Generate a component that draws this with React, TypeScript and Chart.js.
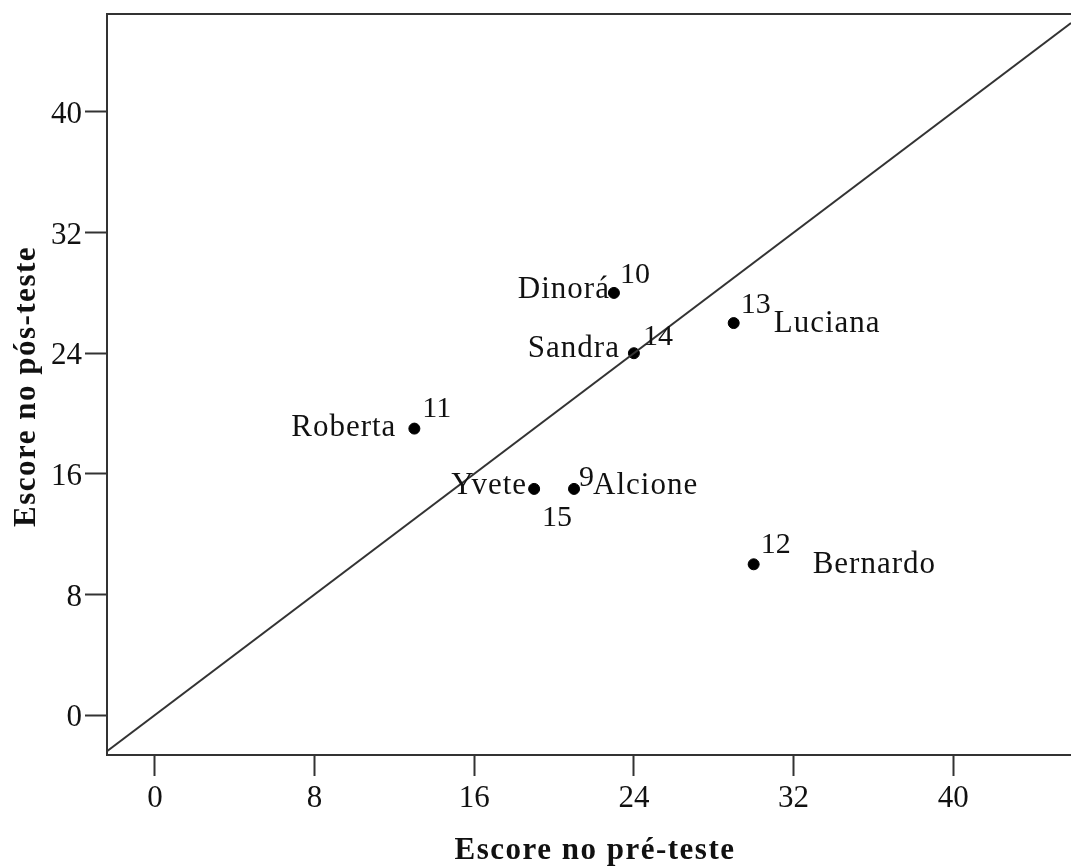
import React, { useEffect, useRef } from "react";
import { Chart, registerables } from "chart.js";

Chart.register(...registerables);

// ---- data ----
const caseIds = [9, 10, 11, 12, 13, 14, 15];
const names = ["Alcione", "Dinorá", "Roberta", "Bernardo", "Luciana", "Sandra", "Yvete"];
const preScores = [21, 23, 13, 30, 29, 24, 19];
const postScores = [15, 28, 19, 10, 26, 24, 15];
const xTicks = [0, 8, 16, 24, 32, 40];
const yTicks = [0, 8, 16, 24, 32, 40];
const xTitle = "Escore no pré-teste";
const yTitle = "Escore no pós-teste";

const X_MIN = -2.4;
const X_MAX = 45.9;
const Y_MIN = -2.65;
const Y_MAX = 46.5;

// ---- label placement (pixel offsets from the point) ----
type Place = { nx: number; ny: number; lx: number; ly: number; la: CanvasTextAlign };
const placement: Record<string, Place> = {
  Alcione: { nx: 5, ny: -3, lx: 19, ly: 5, la: "left" },
  "Dinorá": { nx: 6, ny: -10, lx: -4, ly: 5, la: "right" },
  Roberta: { nx: 8, ny: -12, lx: -18, ly: 7, la: "right" },
  Bernardo: { nx: 7, ny: -11, lx: 59, ly: 9, la: "left" },
  Luciana: { nx: 7, ny: -10, lx: 40, ly: 9, la: "left" },
  Sandra: { nx: 9, ny: -8, lx: -14, ly: 4, la: "right" },
  Yvete: { nx: 8, ny: 37, lx: -7, ly: 5, la: "right" },
};

const SERIF = '"Liberation Serif", "Times New Roman", serif';
const INK = "#111";
const LINE = "#333";

const decorPlugin = {
  id: "decor",
  afterDraw(chart: any) {
    const { ctx, chartArea } = chart;
    const xs = chart.scales.x;
    const ys = chart.scales.y;
    ctx.save();
    // top frame line
    ctx.strokeStyle = LINE;
    ctx.lineWidth = 2;
    ctx.beginPath();
    ctx.moveTo(chartArea.left - 1, chartArea.top);
    ctx.lineTo(chartArea.right + 2, chartArea.top);
    ctx.stroke();

    // point labels
    ctx.fillStyle = INK;
    ctx.textBaseline = "alphabetic";
    names.forEach((nm, i) => {
      const px = xs.getPixelForValue(preScores[i]);
      const py = ys.getPixelForValue(postScores[i]);
      const p = placement[nm];
      ctx.font = `30px ${SERIF}`;
      (ctx as any).letterSpacing = "0px";
      ctx.textAlign = "left";
      ctx.fillText(String(caseIds[i]), px + p.nx, py + p.ny);
      ctx.font = `31px ${SERIF}`;
      (ctx as any).letterSpacing = "1px";
      ctx.textAlign = p.la;
      ctx.fillText(nm, px + p.lx, py + p.ly);
    });

    // axis titles
    ctx.font = `bold 31px ${SERIF}`;
    (ctx as any).letterSpacing = "1.5px";
    ctx.textAlign = "center";
    ctx.fillText(xTitle, (chartArea.left + chartArea.right) / 2 + 6, 859);
    ctx.save();
    ctx.translate(35, (chartArea.top + chartArea.bottom) / 2 + 2);
    ctx.rotate(-Math.PI / 2);
    ctx.fillText(yTitle, 0, 0);
    ctx.restore();
    ctx.restore();
  },
};

export default function App() {
  const ref = useRef<HTMLCanvasElement | null>(null);
  useEffect(() => {
    if (!ref.current) return;
    const chart = new Chart(ref.current, {
      type: "scatter",
      data: {
        datasets: [
          {
            type: "line",
            label: "ref",
            data: [
              { x: X_MIN, y: X_MIN },
              { x: X_MAX, y: X_MAX },
            ],
            borderColor: LINE,
            borderWidth: 2,
            pointRadius: 0,
            fill: false,
          } as any,
          {
            label: "casos",
            data: preScores.map((v, i) => ({ x: v, y: postScores[i] })),
            backgroundColor: "#000",
            borderColor: "#000",
            pointRadius: 5.5,
            pointHoverRadius: 5.5,
          },
        ],
      },
      options: {
        animation: false,
        responsive: false,
        events: [],
        layout: { autoPadding: false, padding: { top: 14, right: 0, left: 0, bottom: 0 } },
        plugins: { legend: { display: false }, tooltip: { enabled: false } },
        scales: {
          x: {
            type: "linear",
            min: X_MIN,
            max: X_MAX,
            afterBuildTicks: (s: any) => {
              s.ticks = xTicks.map((v) => ({ value: v }));
            },
            afterFit: (s: any) => {
              s.height = 111;
              s.paddingLeft = 0;
              s.paddingRight = 0;
            },
            grid: {
              drawOnChartArea: false,
              drawTicks: true,
              tickLength: 21,
              tickWidth: 2,
              tickColor: LINE,
            },
            border: { display: true, color: LINE, width: 2 },
            ticks: {
              color: INK,
              font: { family: SERIF, size: 31 },
              padding: 4,
              maxRotation: 0,
              autoSkip: false,
            },
          },
          y: {
            type: "linear",
            min: Y_MIN,
            max: Y_MAX,
            afterBuildTicks: (s: any) => {
              s.ticks = yTicks.map((v) => ({ value: v }));
            },
            afterFit: (s: any) => {
              s.width = 107;
              s.paddingTop = 0;
              s.paddingBottom = 0;
            },
            grid: {
              drawOnChartArea: false,
              drawTicks: true,
              tickLength: 22,
              tickWidth: 2,
              tickColor: LINE,
            },
            border: { display: true, color: LINE, width: 2 },
            ticks: {
              color: INK,
              font: { family: SERIF, size: 31 },
              padding: 3,
              labelOffset: 3,
              autoSkip: false,
            },
          },
        },
      },
      plugins: [decorPlugin],
    });
    return () => chart.destroy();
  }, []);
  return (
    <div style={{ position: "absolute", left: 0, top: 0, width: 1071, height: 866, background: "#fff" }}>
      <canvas ref={ref} width={1071} height={866} style={{ display: "block", width: 1071, height: 866 }} />
    </div>
  );
}
